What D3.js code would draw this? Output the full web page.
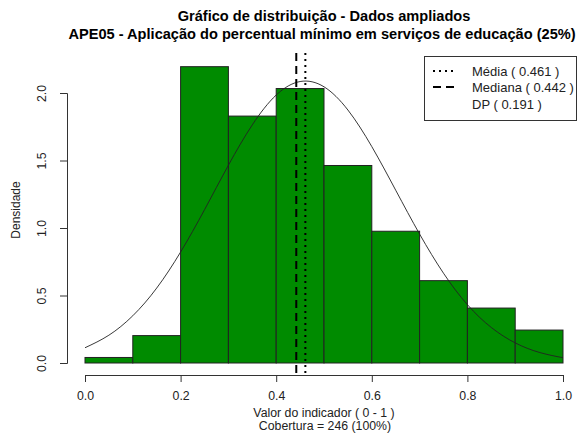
<!DOCTYPE html>
<html><head><meta charset="utf-8">
<script src="https://cdn.jsdelivr.net/npm/d3@7"></script>
<style>body{margin:0;background:#fff}svg{display:block;font-family:"Liberation Sans",Arial,sans-serif}</style>
</head><body><svg id="c" width="579" height="437"></svg>
<script>
const binStarts = [0,0.1,0.2,0.3,0.4,0.5,0.6,0.7,0.8,0.9];
const binWidth = 0.1;
const densities = [0.041,0.203,2.195,1.829,2.033,1.463,0.976,0.610,0.407,0.244];
const curveX = [0,0.05,0.1,0.15,0.2,0.25,0.3,0.35,0.4,0.45,0.5,0.55,0.6,0.65,0.7,0.75,0.8,0.85,0.9,0.95,1.0];
const curveY = [0.113,0.206,0.350,0.555,0.822,1.135,1.465,1.764,1.985,2.085,2.046,1.874,1.603,1.280,0.955,0.665,0.432,0.263,0.149,0.079,0.039];
const mean = 0.461, median = 0.442, sd = 0.191;
const xTicks = [0,0.2,0.4,0.6,0.8,1.0];
const yTicks = [0,0.5,1.0,1.5,2.0];
const legendLabels = ["Média ( 0.461 )","Mediana ( 0.442 )","DP ( 0.191 )"];

const svg = d3.select("#c");
const x = d3.scaleLinear().domain([0,1]).range([85,563]);
const y = d3.scaleLinear().domain([0,2]).range([363,93]);
const green = "#008B00";

svg.selectAll("rect.bar").data(binStarts).enter().append("rect")
  .attr("x", d=>x(d)).attr("width", d=>x(d+binWidth)-x(d))
  .attr("y", (d,i)=>y(densities[i])).attr("height",(d,i)=>y(0)-y(densities[i]))
  .attr("fill",green).attr("stroke","#222").attr("stroke-width",1);

const line = d3.line().x((d,i)=>x(curveX[i])).y(d=>y(d)).curve(d3.curveNatural);
svg.append("path").attr("d",line(curveY)).attr("fill","none").attr("stroke","#222").attr("stroke-width",0.9);

svg.append("line").attr("x1",x(mean)).attr("x2",x(mean)).attr("y1",53).attr("y2",374)
  .attr("stroke","#000").attr("stroke-width",2).attr("stroke-dasharray","2,4");
svg.append("line").attr("x1",x(median)).attr("x2",x(median)).attr("y1",53).attr("y2",374)
  .attr("stroke","#000").attr("stroke-width",2).attr("stroke-dasharray","8,5");

// x axis
const xa = svg.append("g").attr("transform","translate(0,375)")
  .call(d3.axisBottom(x).tickValues(xTicks).tickFormat(d3.format(".1f")).tickSize(7).tickPadding(9));
xa.select(".domain").attr("stroke","#333");
xa.selectAll("line").attr("stroke","#333");
xa.selectAll("text").attr("font-size","12.3px").attr("fill","#222").attr("font-family","Liberation Sans, Arial, sans-serif");

// y axis
const ya = svg.append("g").attr("transform","translate(67,0)")
  .call(d3.axisLeft(y).tickValues(yTicks).tickFormat(d3.format(".1f")).tickSize(7));
ya.select(".domain").attr("stroke","#333");
ya.selectAll("line").attr("stroke","#333");
ya.selectAll("text").attr("font-size","12.3px").attr("fill","#222").attr("font-family","Liberation Sans, Arial, sans-serif")
  .attr("text-anchor","middle").attr("x",0).attr("dy",0)
  .attr("transform","translate(-21,0) rotate(-90)");

svg.append("text").attr("x",16).attr("y",210).attr("transform","rotate(-90,16,210)")
  .attr("text-anchor","middle").attr("dy","0.35em").attr("font-size","12px").attr("fill","#222").text("Densidade");

svg.append("text").attr("x",324).attr("y",417).attr("text-anchor","middle").attr("font-size","12.3px").attr("fill","#222").text("Valor do indicador ( 0 - 1 )");
svg.append("text").attr("x",325).attr("y",430).attr("text-anchor","middle").attr("font-size","12.3px").attr("fill","#222").text("Cobertura = 246 (100%)");

svg.append("text").attr("x",324).attr("y",21).attr("text-anchor","middle").attr("font-size","14.6px").attr("font-weight","bold").attr("fill","#000").text("Gráfico de distribuição - Dados ampliados");
svg.append("text").attr("x",322).attr("y",39).attr("text-anchor","middle").attr("font-size","14.6px").attr("font-weight","bold").attr("fill","#000").text("APE05 - Aplicação do percentual mínimo em serviços de educação (25%)");

// legend
svg.append("rect").attr("x",424.5).attr("y",56.5).attr("width",152).attr("height",64).attr("fill","#fff").attr("stroke","#333");
const ly = [71,87,104];
const dashes = ["2,4","8,5",null];
legendLabels.forEach((t,i)=>{
  if(dashes[i]) svg.append("line").attr("x1",433).attr("x2",455).attr("y1",ly[i]).attr("y2",ly[i])
    .attr("stroke","#000").attr("stroke-width",2).attr("stroke-dasharray",dashes[i]);
  svg.append("text").attr("x",472).attr("y",ly[i]).attr("dy","0.35em").attr("font-size","13px").attr("fill","#222").text(t);
});
</script></body></html>
